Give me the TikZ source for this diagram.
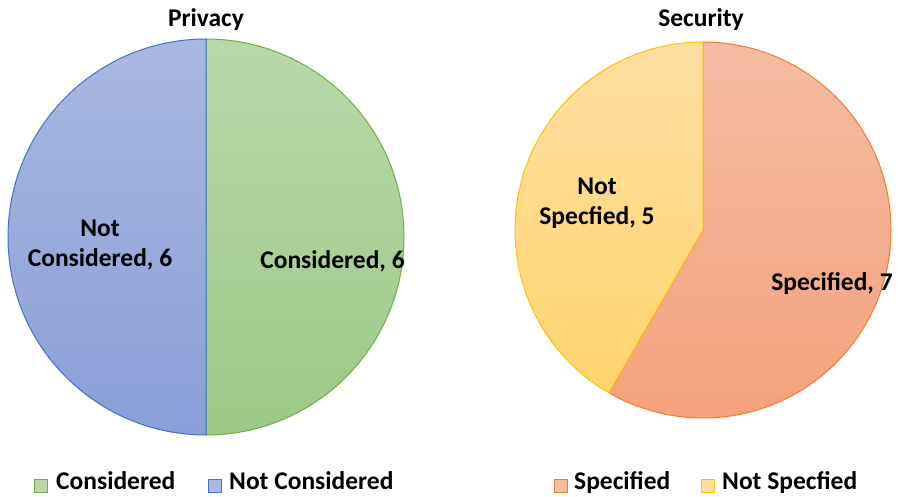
\documentclass[tikz,border=0pt]{standalone}
\usepackage{fontspec}
\setmainfont{Carlito}
\usetikzlibrary{positioning}

\definecolor{grntop}{HTML}{B9D8AA}
\definecolor{grnbot}{HTML}{9CC987}
\definecolor{grnline}{HTML}{70AD47}
\definecolor{blutop}{HTML}{A9B8E1}
\definecolor{blubot}{HTML}{8A9FD8}
\definecolor{bluline}{HTML}{4472C4}
\definecolor{orgtop}{HTML}{F5BCA4}
\definecolor{orgbot}{HTML}{F4A27C}
\definecolor{orgline}{HTML}{ED7D31}
\definecolor{yeltop}{HTML}{FFDFA2}
\definecolor{yelbot}{HTML}{FFD46E}
\definecolor{yelline}{HTML}{FFC000}

\begin{document}
\begin{tikzpicture}[x=1pt,y=1pt,
    lbl/.style={font=\bfseries\fontsize{25.5}{30}\selectfont, align=center, inner sep=0pt},
    keybox/.style={minimum size=13pt, inner sep=0pt, line width=1pt}]
    \useasboundingbox (0,0) rectangle (899,496);

    % privacy pie
    \coordinate (pc) at (206,259);
    \shade[top color=grntop, bottom color=grnbot] (pc) -- ++(0,198) arc[start angle=90, end angle=-90, radius=198pt] -- cycle;
    \draw[grnline, line width=1pt] (pc) -- ++(0,198) arc[start angle=90, end angle=-90, radius=198pt] -- cycle;
    \shade[top color=blutop, bottom color=blubot] (pc) -- ++(0,198) arc[start angle=90, end angle=270, radius=198pt] -- cycle;
    \draw[bluline, line width=1pt] (pc) -- ++(0,198) arc[start angle=90, end angle=270, radius=198pt] -- cycle;

    % security pie
    \coordinate (sc) at (703,266);
    \shade[top color=orgtop, bottom color=orgbot] (sc) -- ++(0,188) arc[start angle=90, end angle=-120, radius=188pt] -- cycle;
    \draw[orgline, line width=1pt] (sc) -- ++(0,188) arc[start angle=90, end angle=-120, radius=188pt] -- cycle;
    \shade[top color=yeltop, bottom color=yelbot] (sc) -- ++(0,188) arc[start angle=90, end angle=240, radius=188pt] -- cycle;
    \draw[yelline, line width=1pt] (sc) -- ++(0,188) arc[start angle=90, end angle=240, radius=188pt] -- cycle;

    % titles and slice labels
    \node[lbl, anchor=base] (privacy) at (206,469) {Privacy};
    \node[lbl, anchor=base] (security) at (701,469) {Security};
    \node[lbl, anchor=base] (notcons) at (100,229.3) {Not\\Considered, 6};
    \node[lbl, anchor=base] (cons) at (332.5,228) {Considered, 6};
    \node[lbl, anchor=base] (notspec) at (597,271) {Not\\Specfied, 5};
    \node[lbl, anchor=base] (spec) at (832,206) {Specified, 7};

    % legends
    \node[keybox, draw=grnline, fill=grntop] (conskey) at (40.5,10.5) {};
    \node[lbl, anchor=base west] (conslbl) at (56,7) {Considered};
    \node[keybox, draw=bluline, fill=blutop] (notconskey) at (214.5,10.5) {};
    \node[lbl, anchor=base west] (notconslbl) at (229,7) {Not Considered};
    \node[keybox, draw=orgline, fill=orgtop] (speckey) at (560.5,10.5) {};
    \node[lbl, anchor=base west] (speclbl) at (574,7) {Specified};
    \node[keybox, draw=yelline, fill=yeltop] (notspeckey) at (707.5,10.5) {};
    \node[lbl, anchor=base west] (notspeclbl) at (722,7) {Not Specfied};
\end{tikzpicture}
\end{document}
